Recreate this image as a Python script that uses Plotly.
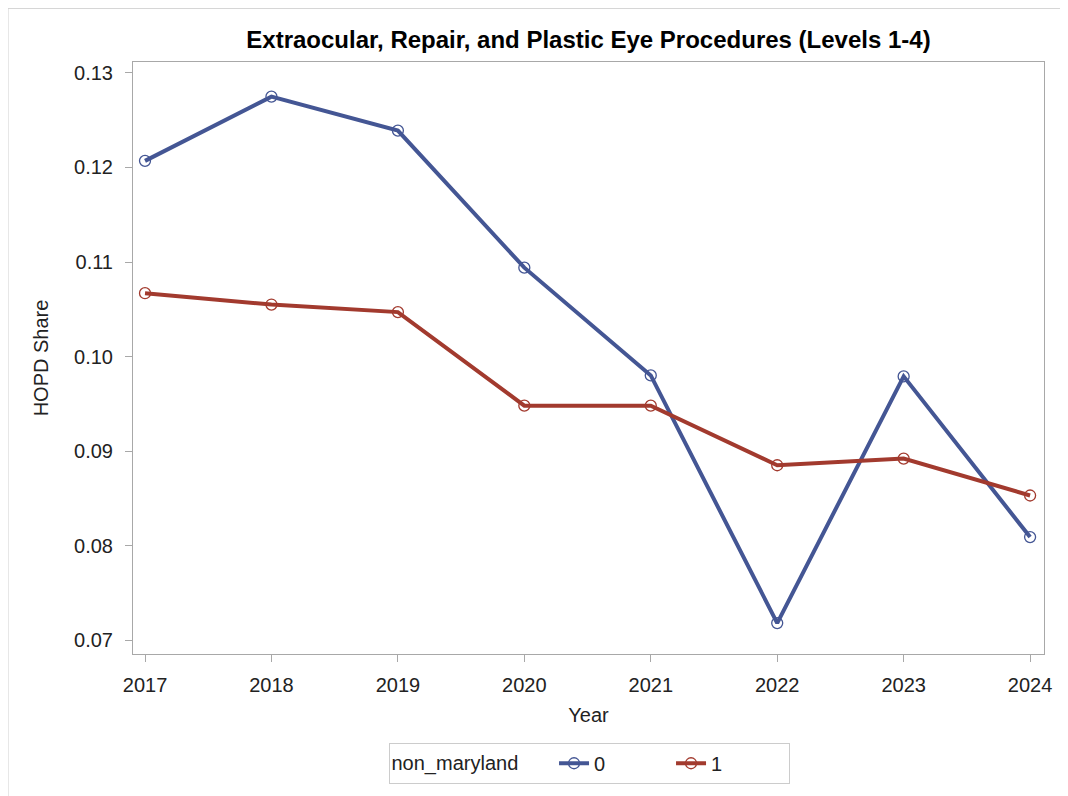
import plotly.graph_objects as go

years = [2017, 2018, 2019, 2020, 2021, 2022, 2023, 2024]
share_0 = [0.1207, 0.1275, 0.1239, 0.1094, 0.0980, 0.0718, 0.0979, 0.0809]
share_1 = [0.1067, 0.1055, 0.1047, 0.0948, 0.0948, 0.0885, 0.0892, 0.0853]
y_ticks = [0.07, 0.08, 0.09, 0.10, 0.11, 0.12, 0.13]
y_tick_text = ["0.07", "0.08", "0.09", "0.10", "0.11", "0.12", "0.13"]

BLUE = "#445694"
RED = "#A23A2E"
FONT = "Liberation Sans, Arial, sans-serif"
TXT = "#222222"

W, H = 1060, 788
L, R, T, B = 125, 24, 54, 138
PW, PH = W - L - R, H - T - B

fig = go.Figure()
fig.add_trace(go.Scatter(
    x=years, y=share_0, name="0", mode="lines+markers",
    line=dict(color=BLUE, width=4),
    marker=dict(symbol="circle-open", size=11, color=BLUE, line=dict(width=1.3)),
))
fig.add_trace(go.Scatter(
    x=years, y=share_1, name="1", mode="lines+markers",
    line=dict(color=RED, width=4),
    marker=dict(symbol="circle-open", size=11, color=RED, line=dict(width=1.3)),
))

fig.update_layout(
    width=W, height=H,
    margin=dict(l=L, r=R, t=T, b=B),
    paper_bgcolor="white", plot_bgcolor="white",
    font=dict(family=FONT, size=20, color=TXT),
    title=dict(text="<b>Extraocular, Repair, and Plastic Eye Procedures (Levels 1-4)</b>",
               x=0.5, xref="paper", xanchor="center", y=1 - 32 / H, yanchor="middle",
               font=dict(family=FONT, size=24, color="black")),
    showlegend=True,
    legend=dict(orientation="h", x=(589 - 8 - L) / PW, xanchor="center",
                y=-(768 - 658) / PH, yanchor="middle",
                title=dict(text="non_maryland     ", font=dict(size=20, color=TXT)),
                bordercolor="#cccccc", borderwidth=1, font=dict(size=20, color=TXT),
                entrywidth=72, entrywidthmode="pixels"),
    xaxis=dict(
        title=dict(text="Year", font=dict(size=20, color=TXT), standoff=12),
        range=[2016.905, 2024.11], tickmode="array", tickvals=years,
        ticks="outside", ticklen=7, tickcolor="#a8a8a8", showgrid=False, zeroline=False,
        showline=True, linecolor="#a8a8a8", linewidth=1, mirror=True,
        tickfont=dict(size=20, color=TXT), ticklabelstandoff=6,
    ),
    yaxis=dict(
        title=dict(text="HOPD Share", font=dict(size=20, color=TXT), standoff=20),
        range=[0.06853, 0.13116], tickmode="array", tickvals=y_ticks, ticktext=y_tick_text,
        ticks="outside", ticklen=7, tickcolor="#a8a8a8", showgrid=False, zeroline=False,
        showline=True, linecolor="#a8a8a8", linewidth=1, mirror=True,
        tickfont=dict(size=20, color=TXT), ticklabelstandoff=8,
    ),
)

fig.add_shape(type="rect", xref="paper", yref="paper",
              x0=-(L - 0) / PW, x1=1 + (R - 6) / PW,
              y0=-(B + 20) / PH, y1=1 + (T - 0) / PH,
              line=dict(color="#d0d0d0", width=1), layer="below")

fig.write_html("out.html")
